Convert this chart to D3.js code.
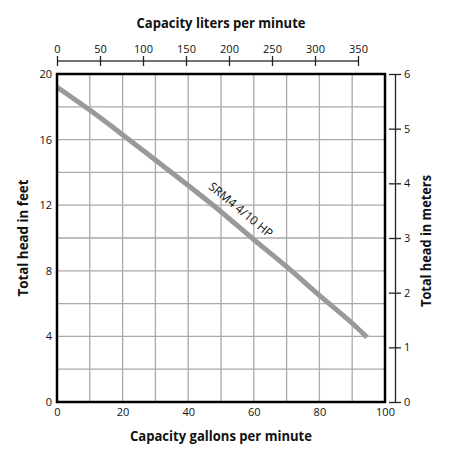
<!DOCTYPE html>
<html>
<head>
<meta charset="utf-8">
<script src="https://cdn.jsdelivr.net/npm/d3@7"></script>
<style>
  body { margin: 0; background: #fff; }
  text { font-family: "Open Sans", "DejaVu Sans", sans-serif; fill: #111; }
  .title { font-weight: bold; font-size: 14px; }
</style>
</head>
<body>
<svg id="chart" width="469" height="468"></svg>
<script>
// Pump curve
var gallons = [0, 10, 20, 30, 40, 50, 60, 70, 80, 90, 94.5];
var headFeet = [19.2, 17.8, 16.3, 14.75, 13.2, 11.6, 9.9, 8.25, 6.5, 4.8, 3.95];
var curveLabel = 'SRM4 4/10 HP';

var gallonTicks = [0, 20, 40, 60, 80, 100];
var feetTicks = [0, 4, 8, 12, 16, 20];
var literTicks = [0, 50, 100, 150, 200, 250, 300, 350];
var meterTicks = [0, 1, 2, 3, 4, 5, 6];

// Plot box
var margin = { top: 74, right: 84, bottom: 66, left: 57 },
    svg = d3.select('#chart'),
    width = 469 - margin.left - margin.right,
    height = 468 - margin.top - margin.bottom;

var x = d3.scaleLinear().domain([0, 100]).range([0, width]);
var y = d3.scaleLinear().domain([0, 20]).range([height, 0]);
var xL = d3.scaleLinear().domain([0, 381.4]).range([0, width]);
var yM = d3.scaleLinear().domain([0, 6]).range([height, 0]);

var g = svg.append('g')
  .attr('transform', 'translate(' + margin.left + ',' + margin.top + ')');

// Grid
g.append('g')
  .selectAll('line')
  .data(d3.range(10, 100, 10)).enter()
  .append('line')
    .attr('x1', function(d) { return x(d); })
    .attr('x2', function(d) { return x(d); })
    .attr('y1', 0).attr('y2', height)
    .attr('stroke', '#aaa').attr('stroke-width', 1.3);

g.append('g')
  .selectAll('line')
  .data(d3.range(2, 20, 2)).enter()
  .append('line')
    .attr('y1', function(d) { return y(d); })
    .attr('y2', function(d) { return y(d); })
    .attr('x1', 0).attr('x2', width)
    .attr('stroke', '#aaa').attr('stroke-width', 1.3);

// Curve
var line = d3.line()
  .x(function(d) { return x(d[0]); })
  .y(function(d) { return y(d[1]); })
  .curve(d3.curveMonotoneX);

g.append('path')
  .datum(d3.zip(gallons, headFeet))
  .attr('d', line)
  .attr('fill', 'none')
  .attr('stroke', '#999')
  .attr('stroke-width', 5);

// Curve label, rotated along the slope
var lx = 53.5, ly = 11.1;
var ang = Math.atan2(y(9.9) - y(13.2), x(60) - x(40)) * 180 / Math.PI;
g.append('text')
  .attr('transform', 'translate(' + x(lx) + ',' + y(ly) + ') rotate(' + ang + ')')
  .attr('text-anchor', 'middle')
  .attr('dy', -9)
  .style('font-size', '12px')
  .text(curveLabel);

// Plot border
g.append('rect')
  .attr('width', width).attr('height', height)
  .attr('fill', 'none').attr('stroke', '#000').attr('stroke-width', 2.5);

// Bottom axis (gallons)
var bottomAxis = g.append('g')
  .attr('transform', 'translate(0,' + height + ')')
  .call(d3.axisBottom(x).tickValues(gallonTicks).tickSize(0).tickPadding(6));
bottomAxis.select('.domain').remove();

// Left axis (feet)
var leftAxis = g.append('g')
  .call(d3.axisLeft(y).tickValues(feetTicks).tickSize(0).tickPadding(5));
leftAxis.select('.domain').remove();

// Top axis (liters)
var topAxis = svg.append('g')
  .attr('transform', 'translate(' + margin.left + ',61)')
  .call(d3.axisTop(xL).tickValues(literTicks).tickSize(5).tickSizeOuter(0).tickPadding(3));
topAxis.select('.domain').attr('d', 'M0,0H' + xL(350)).attr('stroke', '#444').attr('stroke-width', 1.3);
topAxis.selectAll('.tick line').attr('y1', 5).attr('y2', -5).attr('stroke', '#222').attr('stroke-width', 1.3);

// Right axis (meters)
var rightAxis = svg.append('g')
  .attr('transform', 'translate(395,' + margin.top + ')')
  .call(d3.axisRight(yM).tickValues(meterTicks).tickFormat(d3.format('d'))
    .tickSize(6).tickSizeOuter(0).tickPadding(3));
rightAxis.select('.domain').attr('stroke', '#222').attr('stroke-width', 1.3);
rightAxis.selectAll('.tick line').attr('x1', -6).attr('x2', 6).attr('stroke', '#222').attr('stroke-width', 1.3);

svg.selectAll('.tick text')
  .style('font-size', '11px')
  .style('font-family', '"Open Sans", "DejaVu Sans", sans-serif')
  .attr('fill', '#111');

// Titles
svg.append('text').attr('class', 'title')
  .attr('x', 221).attr('y', 28)
  .attr('text-anchor', 'middle')
  .attr('textLength', 169).attr('lengthAdjust', 'spacingAndGlyphs')
  .text('Capacity liters per minute');

svg.append('text').attr('class', 'title')
  .attr('x', 221).attr('y', 441)
  .attr('text-anchor', 'middle')
  .attr('textLength', 182).attr('lengthAdjust', 'spacingAndGlyphs')
  .text('Capacity gallons per minute');

svg.append('text').attr('class', 'title')
  .attr('transform', 'translate(28,238) rotate(-90)')
  .attr('text-anchor', 'middle')
  .attr('textLength', 117).attr('lengthAdjust', 'spacingAndGlyphs')
  .text('Total head in feet');

svg.append('text').attr('class', 'title')
  .attr('transform', 'translate(431,241) rotate(-90)')
  .attr('text-anchor', 'middle')
  .attr('textLength', 132).attr('lengthAdjust', 'spacingAndGlyphs')
  .text('Total head in meters');
</script>
</body>
</html>
